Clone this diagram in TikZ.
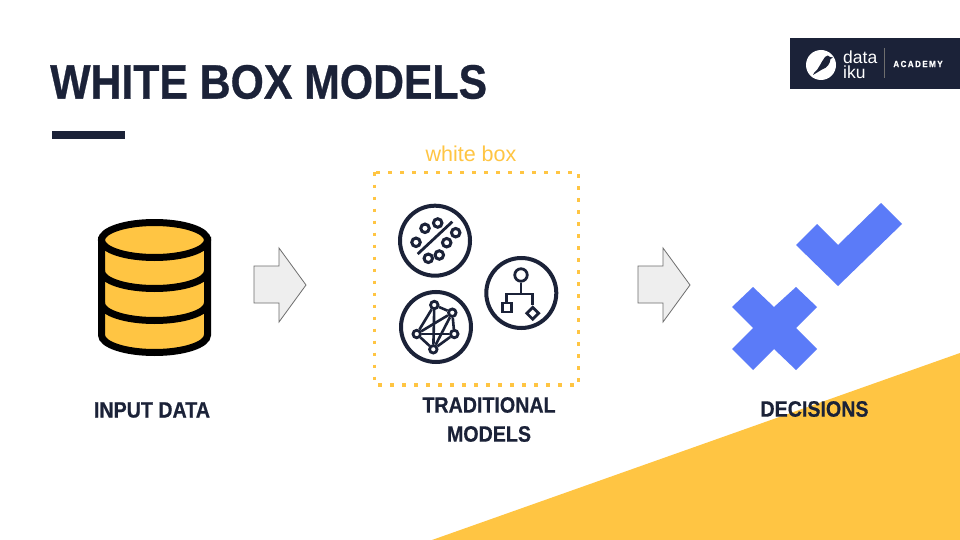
\documentclass[tikz,border=0pt]{standalone}
\usepackage{fontspec}
\usetikzlibrary{shapes.geometric}
\setmainfont{Liberation Sans}
\newfontfamily\condfont[FakeStretch=.885,FakeBold=.6,UprightFont={* Bold}]{Liberation Sans}
\definecolor{ink}{HTML}{1B2238}
\definecolor{sun}{HTML}{FFC543}
\definecolor{markblue}{HTML}{5B7BF8}
\definecolor{arrowfill}{HTML}{EEEEEE}
\definecolor{arrowline}{HTML}{6E6E6E}
\tikzset{
  heading/.style={font=\condfont\fontsize{48.3}{48}\selectfont,text=ink,inner sep=0pt},
  caption/.style={font=\condfont\fontsize{22.2}{29}\selectfont,text=ink,align=center,inner sep=0pt},
  rim/.style={draw=ink,line width=4pt,fill=white},
  dot/.style={circle,draw=ink,line width=3pt,minimum size=8.5pt,inner sep=0pt},
  netdot/.style={circle,draw=ink,fill=white,line width=2.8pt,minimum size=7.5pt,inner sep=0pt},
  iconline/.style={draw=ink,line width=2.8pt},
  flow/.style={draw=arrowline,fill=arrowfill,line width=.8pt}
}
\begin{document}
\begin{tikzpicture}
\begin{scope}[x=1pt,y=-1pt]
\useasboundingbox (0,0) rectangle (960,540);
\fill[white] (0,0) rectangle (960,540);
\fill[sun] (960,353) -- (432,540) -- (960,540) -- cycle;

\node[heading,anchor=west] (title) at (50,82) {WHITE BOX MODELS};
\fill[ink] (52,131) rectangle (125,139);

\begin{scope}[every path/.style={draw=black,line width=7pt,fill=sun}]
\draw (101.5,240) -- (101.5,335) arc[start angle=180,delta angle=-180,x radius=53,y radius=17.5] -- (207.5,240) -- cycle;
\draw (101.5,303) arc[start angle=180,delta angle=-180,x radius=53,y radius=17.5];
\draw (101.5,271) arc[start angle=180,delta angle=-180,x radius=53,y radius=17.5];
\draw (154.5,240) ellipse[x radius=53,y radius=17.5];
\end{scope}
\node[caption] (input) at (152,410) {INPUT DATA};

\draw[flow] (254,266) -- (279,266) -- (279,248) -- (306,285) -- (279,322) -- (279,303) -- (254,303) -- cycle;
\draw[flow] (638,266) -- (663,266) -- (663,248) -- (690,285) -- (663,322) -- (663,303) -- (638,303) -- cycle;

\draw[sun,line width=3.5pt,dash pattern=on 3.5pt off 8.5pt] (374.5,172.5) rectangle (578.5,385);
\node[text=sun,font=\fontsize{21.5}{21.5}\selectfont,inner sep=0pt] (whitebox) at (471,154) {white box};

\draw[rim] (435,240.7) circle[radius=35];
\draw[iconline] (417.7,254) -- (452.3,221.7);
\foreach \name/\px/\py in {a/416/242.3,b/425/228.3,c/437.7/223,d/455.7/232.7,e/446.7/242.7,f/439.3/255,g/428.3/258.3}
  \node[dot] (dot\name) at (\px,\py) {};

\draw[rim] (521.3,293) circle[radius=35];
\node[circle,iconline,minimum size=12.5pt,inner sep=0pt] (root) at (521,275) {};
\node[iconline,minimum size=9pt,inner sep=0pt] (leafa) at (506.7,307.5) {};
\node[diamond,iconline,minimum size=13pt,inner sep=0pt] (leafb) at (532.7,313.3) {};
\coordinate (fork) at (521,294);
\draw[iconline] (root) -- (fork);
\draw[iconline] (leafa.north) |- (fork) -| (leafb.north);

\draw[rim] (436,327) circle[radius=35];
\foreach \name/\px/\py in {t/434.3/305,u/452.3/312.7,r/454.3/334,b/433.3/349.3,l/416.7/334}
  \node[netdot] (net\name) at (\px,\py) {};
\foreach \from/\to in {t/u,t/l,t/b,u/r,u/l,u/b,r/b,r/l,l/b}
  \draw[ink,line width=2.6pt] (net\from) -- (net\to);
\node[caption] (traditional) at (489,419.5) {TRADITIONAL\\MODELS};

\fill[markblue] (881,203) -- (902,224) -- (838,286) -- (796,245) -- (817,224) -- (838,245) -- cycle;
\fill[markblue] (753,287) -- (774,307) -- (796,287) -- (817,307) -- (796,328) -- (817,349) -- (796,370) -- (774,349) -- (753,370) -- (732,349) -- (753,328) -- (732,307) -- cycle;
\node[caption] (decisions) at (814.5,409) {DECISIONS};

\fill[ink] (790,38) rectangle (960,89);
\fill[white] (821,65) circle[radius=15];
\fill[ink] (814,73) .. controls (819,69) and (821,62) .. (825,57) .. controls (827,55) and (829,55) .. (830,57) -- (833,57.5) -- (830.5,59) .. controls (830,64) and (827,68) .. (822,69.5) -- (813,75) -- cycle;
\node[white,font=\fontsize{17.5}{15.5}\selectfont,align=left,inner sep=0pt,anchor=west] (dataiku) at (843,64.5) {data\\iku};
\draw[arrowline,line width=.8pt] (884,48) -- (884,78);
\node[white,font=\condfont\fontsize{9}{9}\selectfont,inner sep=0pt] (academy) at (918,64) {A\,C\,A\,D\,E\,M\,Y};
\end{scope}
\end{tikzpicture}
\end{document}
